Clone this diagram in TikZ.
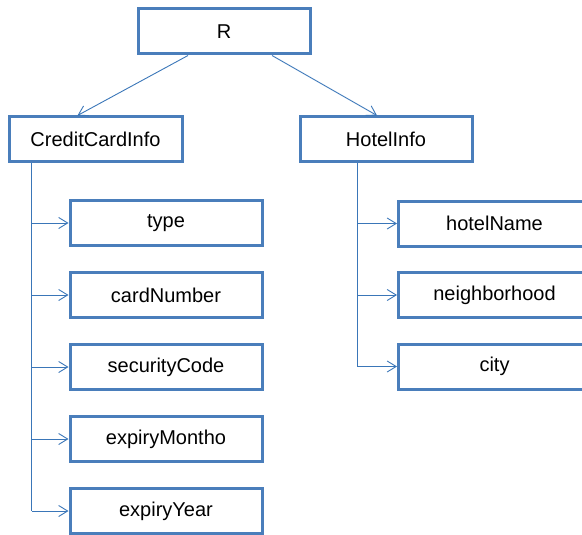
\documentclass[tikz,border=0pt]{standalone}
\usepackage{fontspec}
\setmainfont{Liberation Sans}
\usepackage{tikz}
\usetikzlibrary{arrows.meta}
\usetikzlibrary{calc}
\definecolor{boxblue}{RGB}{74,126,187}
\definecolor{lineblue}{RGB}{58,118,184}
\tikzset{attr/.style = {draw=boxblue, line width=3pt, minimum height=45pt,
                        inner sep=0pt, font=\fontsize{20}{24}\selectfont},
         ->/.style = {draw=lineblue, line width=0.9pt,
                      -{Straight Barb[length=9pt,width=11pt,line width=0.9pt]}}}

\begin{document}
\begin{tikzpicture}[x=1pt, y=-1pt]
    \useasboundingbox (0, 0) rectangle (582, 535);

    \node [attr, minimum width=172pt] (r) at (224, 31.5) {R};
    \node [attr, minimum width=173pt] (creditcard) at (95.5, 139.5) {CreditCardInfo};
    \node [attr, minimum width=172pt] (hotel) at (386, 139.5) {HotelInfo};

    \draw [->] ($(r.south) + (-36, 0)$) -- ($(creditcard.north) + (-18, 0)$);
    \draw [->] ($(r.south) + (48, 0)$) -- ($(hotel.north) + (-9, 0)$);

    \foreach \name/\txt [count=\i] in {type/type, cardnumber/cardNumber,
        securitycode/securityCode, expirymonth/expiryMontho, expiryyear/expiryYear} {
      \node [attr, minimum width=192pt] (\name) at (166, 223 + 72 * \i - 72) {\txt};
    }
    \foreach \name/\txt [count=\i] in {hotelname/hotelName,
        neighborhood/neighborhood, city/city} {
      \node [attr, minimum width=192pt, anchor=west] (\name) at (397, 223.5 + 71.5 * \i - 71.5) {\txt};
    }

    \coordinate (cctrunk) at ($(creditcard.south west) + (24, 0)$);
    \coordinate (hoteltrunk) at ($(hotel.south west) + (59, 0)$);
    \draw [draw=lineblue, line width=0.9pt] (cctrunk) -- (cctrunk |- expiryyear.west);
    \draw [draw=lineblue, line width=0.9pt] (hoteltrunk) -- (hoteltrunk |- city.west);
    \foreach \name in {type, cardnumber, securitycode, expirymonth, expiryyear}
      \draw [->] (cctrunk |- \name.west) -- (\name.west);
    \foreach \name in {hotelname, neighborhood, city}
      \draw [->] (hoteltrunk |- \name.west) -- (\name.west);
\end{tikzpicture}
\end{document}
